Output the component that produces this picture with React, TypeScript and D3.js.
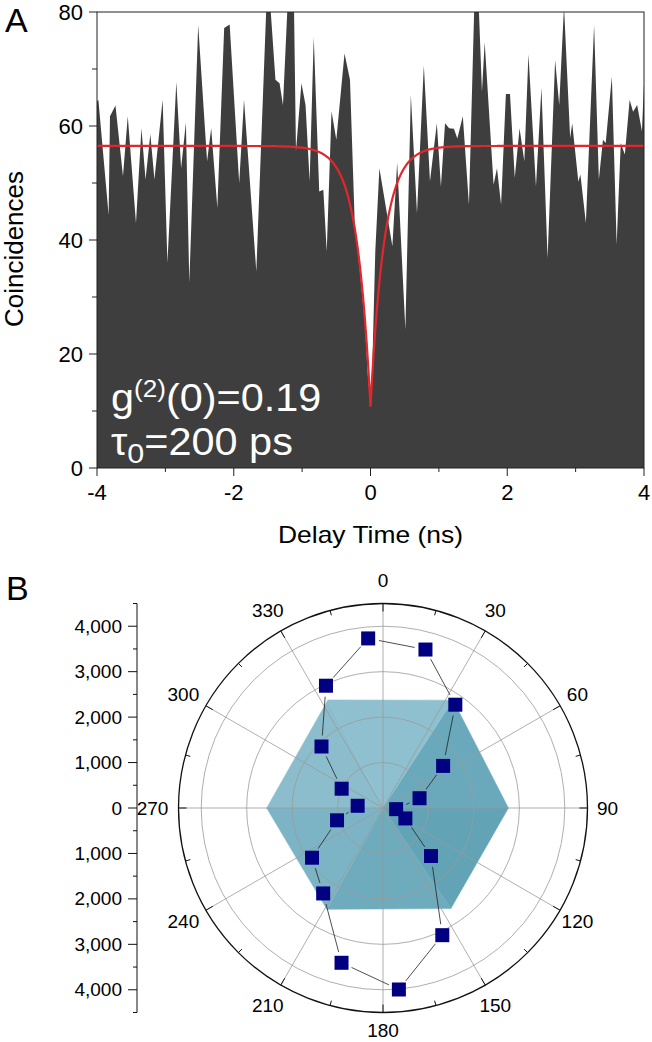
import React from "react";
import * as d3 from "d3";

// ---------- Panel A data ----------
const delayNs = [
  -4.0, -3.98, -3.83, -3.81, -3.73, -3.62, -3.55, -3.43, -3.35, -3.29, -3.22, -3.16, -3.04, -2.97,
  -2.84, -2.77, -2.7, -2.65, -2.52, -2.39, -2.33, -2.24, -2.14, -2.06, -1.92, -1.85, -1.67, -1.52,
  -1.47, -1.39, -1.33, -1.28, -1.21, -1.12, -1.09, -1.01, -0.95, -0.89, -0.83, -0.75, -0.69, -0.64,
  -0.57, -0.5, -0.38, -0.3, -0.23, -0.16, -0.08, -0.04, 0.0, 0.02, 0.07, 0.13, 0.32, 0.39, 0.51,
  0.59, 0.68, 0.78, 0.87, 0.97, 1.03, 1.09, 1.15, 1.22, 1.27, 1.35, 1.44, 1.52, 1.58, 1.63, 1.67,
  1.8, 1.85, 1.91, 1.98, 2.04, 2.11, 2.18, 2.25, 2.31, 2.42, 2.5, 2.59, 2.7, 2.76, 2.83, 2.92, 2.95,
  3.04, 3.07, 3.15, 3.27, 3.34, 3.4, 3.44, 3.53, 3.6, 3.66, 3.72, 3.79, 3.84, 3.9, 3.97, 4.0,
];
const coincidences = [
  64.3, 64.6, 44.4, 61.7, 63.6, 51.2, 61.7, 43.0, 59.6, 50.6, 58.6, 50.6, 64.6, 36.0,
  67.7, 52.6, 60.6, 32.5, 77.7, 53.8, 59.6, 45.6, 77.2, 77.8, 50.0, 64.6, 34.5, 82,
  82, 68.1, 67.5, 63.7, 82, 82, 55.6, 67.5, 63.7, 50.3, 75.6, 48.5, 48.8, 38.0,
  62.6, 57.6, 72.7, 68.1, 42.7, 35.1, 25.1, 16.4, 11.0, 15.0, 38.0, 52.6, 38.9, 53.6, 24.3,
  65.5, 44.7, 70.6, 50.3, 60.5, 49.4, 60.5, 59.6, 59.5, 57.8, 61.7, 46.2, 82, 82, 66, 74.7,
  49.7, 52.6, 46.2, 65.6, 65.6, 50.9, 59.6, 53.8, 72.6, 49.4, 66.7, 36.8, 71.6, 63.7, 81, 57.9, 60.5,
  50.2, 51.5, 43.0, 77.7, 50.6, 57.6, 57.0, 68.7, 39.2, 57.0, 55.0, 64.6, 62.5, 63.7, 59.1, 67.5,
];
// fit parameters
const fitBaseline = 56.5;
const fitG2Zero = 0.19;
const fitTauNs = 0.2;

const xTicksMajor = [-4, -2, 0, 2, 4];
const xTicksMinor = [-3, -1, 1, 3];
const yTicksMajor = [0, 20, 40, 60, 80];
const yTicksMinor = [10, 30, 50, 70];

// ---------- Panel B data ----------
const polarAngles = [15, 35, 55, 75, 95, 115, 135, 155, 175, 195, 215, 235, 255, 275, 295, 315, 335, 355];
const polarCounts = [3610, 2775, 1615, 832, 290, 543, 1494, 3088, 4009, 3526, 2295, 1907, 1047, 560, 1004, 1914, 2969, 3746];
const hexAngles = [33, 90, 146, 209, 270, 333];
const hexCounts = [2830, 2760, 2670, 2550, 2560, 2670];
const hexWedgeColors = ["#6aa9bc", "#62a3b6", "#6eabbd", "#7cb4c5", "#8bbdcc", "#8fc0cf"];
const angleTicks = [0, 30, 60, 90, 120, 150, 180, 210, 240, 270, 300, 330];
const radialTicksMajor = [0, 1000, 2000, 3000, 4000];
const radialTicksMinor = [500, 1500, 2500, 3500, 4500];
const gridCounts = [1000, 2000, 3000, 4000];

const FONT = "'Liberation Sans', Arial, Helvetica, sans-serif";

export default function App() {
  // Panel A scales
  const x = d3.scaleLinear().domain([-4, 4]).range([97, 644]);
  const y = d3.scaleLinear().domain([0, 80]).range([468, 12]);
  const area = d3
    .area<number>()
    .x((_, i) => x(delayNs[i]))
    .y0(y(0))
    .y1((d) => y(d));
  const fitT = d3.range(-4, 4.0001, 0.005);
  const fitLine = d3
    .line<number>()
    .x((t) => x(t))
    .y((t) => y(fitBaseline * (1 - (1 - fitG2Zero) * Math.exp(-Math.abs(t) / fitTauNs))));

  // Panel B
  const cx = 383;
  const cy = 808;
  const rOuter = 204.5;
  const r = d3.scaleLinear().domain([0, 4500]).range([0, rOuter]);
  const pt = (ang: number, v: number): [number, number] => {
    const a = (ang * Math.PI) / 180;
    return [cx + r(v) * Math.sin(a), cy - r(v) * Math.cos(a)];
  };
  const radialAxisX = 137;
  const fmt = d3.format(",");

  const hexPts = hexAngles.map((a, i) => pt(a, hexCounts[i]));
  const dataPts = polarAngles.map((a, i) => pt(a, polarCounts[i]));
  const segs: [number, number, number, number][] = [];
  for (let i = 0; i < dataPts.length; i++) {
    const p = dataPts[i];
    const q = dataPts[(i + 1) % dataPts.length];
    const dx = q[0] - p[0];
    const dy = q[1] - p[1];
    const L = Math.hypot(dx, dy);
    const gap = 11;
    if (L > 2 * gap + 2) {
      segs.push([p[0] + (dx / L) * gap, p[1] + (dy / L) * gap, q[0] - (dx / L) * gap, q[1] - (dy / L) * gap]);
    }
  }

  return (
    <svg
      width={652}
      height={1042}
      style={{ position: "absolute", left: 0, top: 0, background: "#fff" }}
      fontFamily={FONT}
    >
      <defs>
        <clipPath id="plotA">
          <rect x={97} y={12} width={547} height={456} />
        </clipPath>
      </defs>
      {/* Panel A */}
      <g clipPath="url(#plotA)">
        <path d={area(coincidences) || ""} fill="#3e3e3e" />
        <path d={fitLine(fitT) || ""} fill="none" stroke="#e4262c" strokeWidth={2.2} />
      </g>
      <rect x={97} y={12} width={547} height={456} fill="none" stroke="#222" strokeWidth={1} />
      {yTicksMajor.map((v) => (
        <g key={"ym" + v}>
          <line x1={89} x2={97} y1={y(v)} y2={y(v)} stroke="#222" />
          <text x={83} y={y(v)} textAnchor="end" dominantBaseline="central" fontSize={22}>
            {v}
          </text>
        </g>
      ))}
      {yTicksMinor.map((v) => (
        <line key={"yn" + v} x1={92} x2={97} y1={y(v)} y2={y(v)} stroke="#222" />
      ))}
      {xTicksMajor.map((v) => (
        <g key={"xm" + v}>
          <line x1={x(v)} x2={x(v)} y1={468} y2={476} stroke="#222" />
          <text x={x(v)} y={500} textAnchor="middle" fontSize={22}>
            {v}
          </text>
        </g>
      ))}
      {xTicksMinor.map((v) => (
        <line key={"xn" + v} x1={x(v)} x2={x(v)} y1={468} y2={472} stroke="#222" />
      ))}
      <text x={278} y={543} fontSize={24} textLength={185} lengthAdjust="spacingAndGlyphs">
        Delay Time (ns)
      </text>
      <text transform="translate(23,249) rotate(-90)" textAnchor="middle" fontSize={26}>
        Coincidences
      </text>
      <text x={5} y={32} fontSize={34}>
        A
      </text>
      <g transform="translate(111,0) scale(1.09,1)">
        <text x={0} y={411} fill="#fff" fontSize={38}>
          <tspan>g</tspan>
          <tspan dy={-14} fontSize={24}>(2)</tspan>
          <tspan dy={14}>(0)=0.19</tspan>
        </text>
        <text x={0} y={455} fill="#fff" fontSize={38}>
          <tspan>τ</tspan>
          <tspan dy={8} fontSize={28}>0</tspan>
          <tspan dy={-8}>=200 ps</tspan>
        </text>
      </g>

      {/* Panel B */}
      <text x={6} y={600} fontSize={34}>
        B
      </text>
      {hexPts.map((p, i) => {
        const q = hexPts[(i + 1) % hexPts.length];
        return (
          <polygon
            key={"w" + i}
            points={`${cx},${cy} ${p[0]},${p[1]} ${q[0]},${q[1]}`}
            fill={hexWedgeColors[i]}
            stroke={hexWedgeColors[i]}
            strokeWidth={0.5}
          />
        );
      })}
      {gridCounts.map((v) => (
        <circle key={"gc" + v} cx={cx} cy={cy} r={r(v)} fill="none" stroke="#9a9a9a" strokeWidth={0.8} />
      ))}
      {angleTicks.map((a) => {
        const [px, py] = pt(a, 4500);
        return <line key={"sp" + a} x1={cx} y1={cy} x2={px} y2={py} stroke="#9a9a9a" strokeWidth={0.8} />;
      })}
      <circle cx={cx} cy={cy} r={rOuter} fill="none" stroke="#111" strokeWidth={1.3} />
      {d3.range(0, 360, 15).map((a) => {
        const major = a % 30 === 0;
        const rad = (a * Math.PI) / 180;
        const r1 = rOuter;
        const r2 = rOuter - (major ? 8 : 5);
        return (
          <line
            key={"at" + a}
            x1={cx + r1 * Math.sin(rad)}
            y1={cy - r1 * Math.cos(rad)}
            x2={cx + r2 * Math.sin(rad)}
            y2={cy - r2 * Math.cos(rad)}
            stroke="#111"
            strokeWidth={1}
          />
        );
      })}
      {angleTicks.map((a) => {
        const rad = (a * Math.PI) / 180;
        const rl = a === 180 ? rOuter + 18 : rOuter + 23;
        return (
          <text
            key={"al" + a}
            x={cx + rl * Math.sin(rad) - 3 * Math.abs(Math.sin(rad))}
            y={cy - rl * Math.cos(rad)}
            textAnchor="middle"
            dominantBaseline="central"
            fontSize={19}
          >
            {a}
          </text>
        );
      })}
      {segs.map((s, i) => (
        <line key={"sg" + i} x1={s[0]} y1={s[1]} x2={s[2]} y2={s[3]} stroke="#222" strokeWidth={0.8} />
      ))}
      {dataPts.map((p, i) => (
        <rect key={"pt" + i} x={p[0] - 7} y={p[1] - 7} width={14} height={14} fill="#000080" />
      ))}
      {/* radial axis on the left */}
      <line x1={radialAxisX} x2={radialAxisX} y1={cy - r(4500)} y2={cy + r(4500)} stroke="#111" strokeWidth={1} />
      {radialTicksMajor.flatMap((v) =>
        (v === 0 ? [1] : [-1, 1]).map((s) => (
          <g key={"rm" + v + s}>
            <line x1={radialAxisX - 9} x2={radialAxisX} y1={cy - s * r(v)} y2={cy - s * r(v)} stroke="#111" />
            <text x={122} y={cy - s * r(v)} textAnchor="end" dominantBaseline="central" fontSize={19}>
              {fmt(v)}
            </text>
          </g>
        ))
      )}
      {radialTicksMinor.flatMap((v) =>
        [-1, 1].map((s) => (
          <line
            key={"rn" + v + s}
            x1={radialAxisX - 4}
            x2={radialAxisX}
            y1={cy - s * r(v)}
            y2={cy - s * r(v)}
            stroke="#111"
          />
        ))
      )}
    </svg>
  );
}
